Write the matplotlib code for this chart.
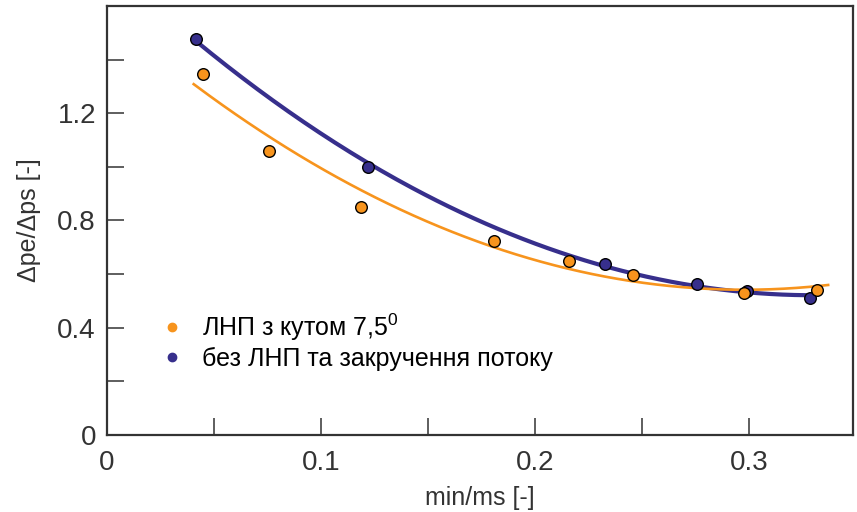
import matplotlib

matplotlib.use("Agg")

import matplotlib.pyplot as plt
import numpy as np
from matplotlib.ticker import MultipleLocator, FixedLocator, FixedFormatter

# ЛНП з кутом 7,5°
orange_x = [0.045, 0.0757, 0.1187, 0.1808, 0.2161, 0.246, 0.2978, 0.3318]
orange_y = [1.346, 1.060, 0.849, 0.724, 0.650, 0.597, 0.531, 0.540]

# без ЛНП та закручення потоку
navy_x = [0.0416, 0.1221, 0.2327, 0.2755, 0.299, 0.3285]
navy_y = [1.476, 0.998, 0.637, 0.563, 0.536, 0.511]

x_ticks = [0, 0.1, 0.2, 0.3]
y_ticks = [0, 0.4, 0.8, 1.2]
legend_labels = ["ЛНП з кутом 7,5$^0$", "без ЛНП та закручення потоку"]

ORANGE = "#F7941D"
NAVY = "#372F8C"
plt.rcParams["font.family"] = ["Liberation Sans", "DejaVu Sans"]
plt.rcParams["mathtext.fontset"] = "custom"
plt.rcParams["mathtext.rm"] = "Liberation Sans"

fig = plt.figure(figsize=(8.57, 5.12), dpi=100)
ax = fig.add_axes([0.1249, 0.1504, 0.8704, 0.8379])

# trend lines: quadratic fits of the measured points
fo = np.polyfit(orange_x, orange_y, 2)
fn = np.polyfit(navy_x, navy_y, 2)
xo = np.linspace(0.0405, 0.337, 200)
xn = np.linspace(0.0416, 0.3285, 200)
ax.plot(xn, np.polyval(fn, xn), color=NAVY, lw=3.0, zorder=2)
ax.plot(xo, np.polyval(fo, xo), color=ORANGE, lw=1.9, zorder=2)

ax.scatter(navy_x, navy_y, s=70, color=NAVY, edgecolor="black", linewidth=1.0, zorder=3)
ax.scatter(orange_x, orange_y, s=70, color=ORANGE, edgecolor="black", linewidth=1.0, zorder=4)

ax.plot([], [], "o", color=ORANGE, ms=6, label=legend_labels[0])
ax.plot([], [], "o", color=NAVY, ms=6, label=legend_labels[1])
leg = ax.legend(loc="lower left", bbox_to_anchor=(0.064, 0.127), frameon=False,
                fontsize=18, handlelength=0.6, handletextpad=0.9, labelspacing=0.14,
                borderaxespad=0)

ax.set_xlim(0, 0.3486)
ax.set_ylim(0, 1.6)
ax.xaxis.set_major_locator(FixedLocator(x_ticks))
ax.xaxis.set_major_formatter(FixedFormatter(["0", "0.1", "0.2", "0.3"]))
ax.xaxis.set_minor_locator(MultipleLocator(0.05))
ax.yaxis.set_major_locator(FixedLocator(y_ticks))
ax.yaxis.set_major_formatter(FixedFormatter(["0", "0.4", "0.8", "1.2"]))
ax.yaxis.set_minor_locator(MultipleLocator(0.2))

ax.tick_params(which="both", direction="in", length=12, width=1.1, color="#333333",
               top=False, right=False, labelsize=20, labelcolor="#333333")
ax.tick_params(axis="x", pad=11)
ax.tick_params(axis="y", pad=8)
for s in ax.spines.values():
    s.set_linewidth(1.6)
    s.set_color("#333333")

ax.set_xlabel("min/ms [-]", fontsize=18, color="#333333", labelpad=7)
ax.set_ylabel("Δpe/Δps [-]", fontsize=18, color="#333333", labelpad=12)

fig.savefig("out.png", dpi=100)
